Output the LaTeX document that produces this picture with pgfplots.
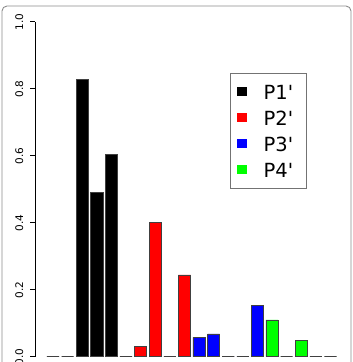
\documentclass[border=0pt]{standalone}
\usepackage{fontspec}
\setmainfont{DejaVu Sans}[Ligatures=TeXOff]
\usepackage{pgfplots}
\pgfplotsset{compat=1.18}
\begin{document}
\begin{tikzpicture}
\useasboundingbox (0,0) rectangle (353pt,362pt);
\clip (0,0) rectangle (353pt,362pt);
\draw[black!45, line width=0.9pt, rounded corners=5pt] (2pt,-20pt) rectangle (351pt,356pt);
\begin{axis}[
  at={(35.4pt,5.3pt)}, anchor=south west,
  scale only axis, width=312.7pt, height=335pt,
  xmin=-0.21, xmax=21.21, ymin=0, ymax=1,
  axis x line=none, axis y line*=left,
  clip=false,
  xtick=\empty,
  ytick={0,0.2,0.4,0.6,0.8,1},
  tick align=outside, major tick length=5pt,
  /pgf/number format/.cd, fixed, fixed zerofill, precision=1, assume math mode=true,
  /pgfplots/.cd,
  tick label style={font=\fontsize{10.5}{10.5}\selectfont},
  yticklabel style={xshift=-7pt, rotate=90, anchor=south, inner sep=0pt},
  axis line style={black, line width=0.6pt},
  every tick/.style={black, line width=0.6pt},
  ybar, bar shift=0pt, bar width=0.8333,
  legend image code/.code={\path[#1] (0pt,-4.7pt) rectangle (10pt,4.7pt);},
  legend style={at={(0.6223,0.8478)}, anchor=north west, draw=black!55, line width=0.7pt,
    font=\fontsize{19.5}{19.5}\selectfont, inner xsep=6.7pt, inner ysep=11.5pt,
    row sep=11.5pt, column sep=0pt,
    nodes={inner sep=0pt, text height=14.5pt, text depth=0pt}},
  legend cell align=left,
]
\addlegendimage{fill=black, draw=none}
\addlegendentry{\hspace*{16.6pt}P1'\hspace*{6pt}}
\addlegendimage{fill=red, draw=none}
\addlegendentry{\hspace*{16.6pt}P2'\hspace*{6pt}}
\addlegendimage{fill=blue, draw=none}
\addlegendentry{\hspace*{16.6pt}P3'\hspace*{6pt}}
\addlegendimage{fill=green, draw=none}
\addlegendentry{\hspace*{16.6pt}P4'\hspace*{6pt}}
\addplot[forget plot, fill=black, draw=black!75, line width=0.6pt] coordinates {(1,0) (2,0) (3,0.828) (4,0.49) (5,0.605)};
\addplot[forget plot, fill=red, draw=black!75, line width=0.6pt] coordinates {(6,0) (7,0.03) (8,0.402) (9,0) (10,0.244)};
\addplot[forget plot, fill=blue, draw=black!75, line width=0.6pt] coordinates {(11,0.058) (12,0.068) (13,0) (14,0) (15,0.153)};
\addplot[forget plot, fill=green, draw=black!75, line width=0.6pt] coordinates {(16,0.11) (17,0) (18,0.049) (19,0) (20,0)};
\end{axis}
\end{tikzpicture}
\end{document}
